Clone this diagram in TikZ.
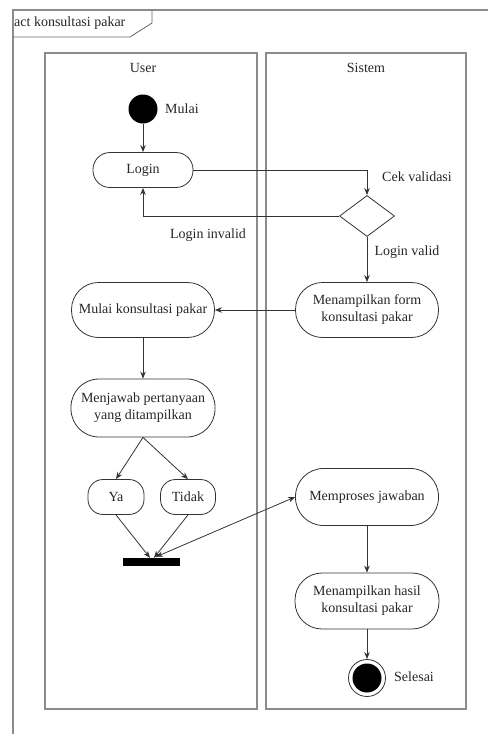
\documentclass[tikz,border=0pt]{standalone}
\usepackage{fontspec}
\setmainfont{Liberation Serif}
\usetikzlibrary{arrows.meta,shapes.geometric,calc}
\begin{document}
\begin{tikzpicture}[x=1pt,y=-1pt,
  font=\fontsize{14}{17}\selectfont,
  every node/.style={text=black!85},
  frameline/.style={draw=black!45,line width=1.4pt},
  lane/.style={draw=black!45,line width=1.6pt},
  act/.style={draw=black!80,line width=0.8pt,rectangle,rounded corners=17pt,align=center,inner sep=2pt},
  flow/.style={draw=black!80,line width=0.8pt,-{Stealth[length=7pt,width=5.5pt]}},
  lbl/.style={inner sep=1pt}]
\useasboundingbox (0,0) rectangle (488,734);

% diagram frame with name tab
\draw[frameline] (13,734) -- (13,10) -- (488,10);
\draw[draw=black!60,line width=0.8pt] (13,37) -- (130,37) -- (152,23) -- (152,10);
\node[anchor=west,inner sep=0pt] (title) at (14,23) {act konsultasi pakar};

% swimlanes
\draw[lane] (45,53) rectangle (257,709);
\draw[lane] (266,53) rectangle (466,709);
\node (laneuser) at (143,68) {User};
\node (lanesys) at (366,68) {Sistem};

% user lane
\node[circle,fill=black,inner sep=0pt,minimum size=29pt] (start) at (143,109) {};
\node[lbl,anchor=west] (startlbl) at (164,109) {Mulai};
\node[act,minimum width=100pt,minimum height=35pt] (login) at (143,170) {Login};
\node[act,minimum width=143pt,minimum height=55pt,rounded corners=27pt] (mulai) at (143,310) {Mulai konsultasi pakar};
\node[act,minimum width=144pt,minimum height=58pt,rounded corners=28pt] (jawab) at (143,408) {Menjawab pertanyaan\\yang ditampilkan};
\node[act,minimum width=56pt,minimum height=35pt,rounded corners=15pt] (ya) at (116,497) {Ya};
\node[act,minimum width=55pt,minimum height=35pt,rounded corners=15pt] (tidak) at (188,497) {Tidak};
\node[rectangle,fill=black,inner sep=0pt,minimum width=57pt,minimum height=8pt] (bar) at (151,562) {};

% system lane
\node[diamond,draw=black!80,line width=0.8pt,inner sep=0pt,minimum width=55pt,minimum height=41pt] (dec) at (367,216) {};
\node[lbl] (ceklbl) at (417,177) {Cek validasi};
\node[lbl] (invlbl) at (208,235) {Login invalid};
\node[lbl] (validlbl) at (407,252) {Login valid};
\node[act,minimum width=143pt,minimum height=55pt,rounded corners=27pt] (form) at (367,310) {Menampilkan form\\konsultasi pakar};
\node[act,minimum width=143pt,minimum height=57pt,rounded corners=28pt] (proses) at (367,497) {Memproses jawaban};
\node[act,minimum width=144pt,minimum height=56pt,rounded corners=27pt] (hasil) at (367,601) {Menampilkan hasil\\konsultasi pakar};
\node[circle,draw=black!80,line width=0.8pt,inner sep=0pt,minimum size=37pt] (end) at (367,678) {};
\node[circle,fill=black,inner sep=0pt,minimum size=29pt] (endin) at (end.center) {};
\node[lbl,anchor=west] (endlbl) at (393,677) {Selesai};

% control flow
\coordinate (barA) at ($(bar.north)+(-1,0)$);
\coordinate (barB) at ($(bar.north)+(3,0)$);
\coordinate (barC) at ($(bar.north)+(5,-1)$);
\draw[flow] (start) -- (login);
\draw[flow] (login.east) -| (dec.north);
\draw[flow] (dec.west) -| (login.south);
\draw[flow] (dec.south) -- (form.north);
\draw[flow] (form.west) -- (mulai.east);
\draw[flow] (mulai.south) -- (jawab.north);
\draw[flow] (jawab.south) -- (ya.north);
\draw[flow] (jawab.south) -- (tidak.north);
\draw[flow] (ya.south) -- (barA);
\draw[flow] (tidak.south) -- (barB);
\draw[flow,{Stealth[length=7pt,width=5.5pt]}-{Stealth[length=7pt,width=5.5pt]}] (barC) -- (proses.west);
\draw[flow] (proses.south) -- (hasil.north);
\draw[flow] (hasil.south) -- (end.north);
\end{tikzpicture}
\end{document}
